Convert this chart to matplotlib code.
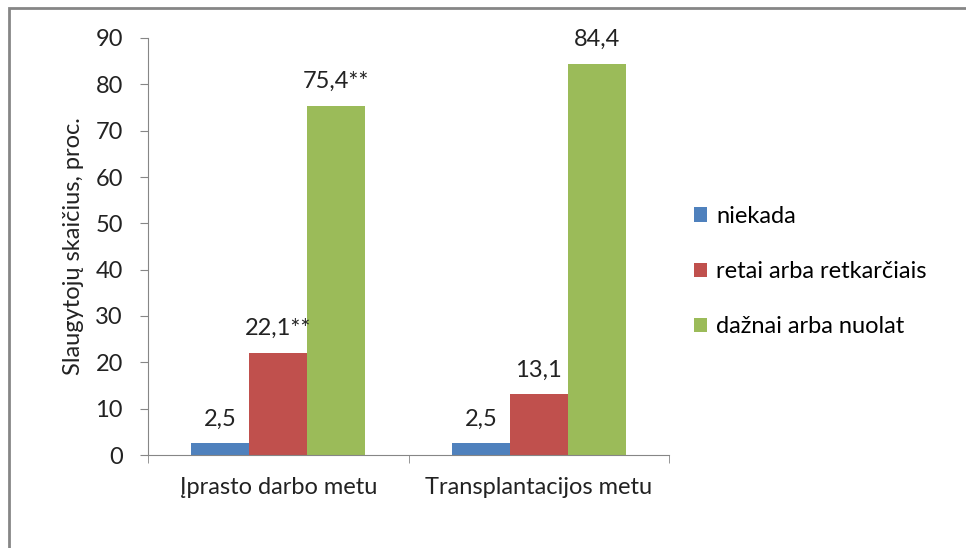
import numpy as np
import matplotlib.pyplot as plt
from matplotlib.patches import Rectangle

plt.rcParams['font.family'] = ['Lato', 'DejaVu Sans']

# Duomenys
categories = ["Įprasto darbo metu", "Transplantacijos metu"]
series_names = ["niekada", "retai arba retkarčiais", "dažnai arba nuolat"]
values = {
    "niekada": [2.5, 2.5],
    "retai arba retkarčiais": [22.1, 13.1],
    "dažnai arba nuolat": [75.4, 84.4],
}
bar_labels = {
    "niekada": ["2,5", "2,5"],
    "retai arba retkarčiais": ["22,1**", "13,1"],
    "dažnai arba nuolat": ["75,4**", "84,4"],
}
colors = ["#4F81BD", "#C0504D", "#9BBB59"]
y_ticks = np.arange(0, 91, 10)

fs = 17
txt_color = "#222222"

fig = plt.figure(figsize=(9.66, 5.48), dpi=100)
ax = fig.add_axes([148 / 966, 1 - 455 / 548, (669 - 148) / 966, (455 - 38) / 548])

# Rėmelis aplink grafiką
fig.patches.append(Rectangle((9 / 966, -0.2), 1.2, 1.2 - 8 / 548,
                             transform=fig.transFigure, fill=False,
                             edgecolor="#868686", linewidth=2))

x = np.arange(len(categories))
width = 1 / 4.5
for i, name in enumerate(series_names):
    pos = x + (i - 1) * width
    bars = ax.bar(pos, values[name], width, color=colors[i], label=name)
    for b, lab in zip(bars, bar_labels[name]):
        ax.annotate(lab, (b.get_x() + b.get_width() / 2, b.get_height()),
                    xytext=(0, 10), textcoords="offset points",
                    ha="center", va="bottom", fontsize=fs, color=txt_color)

ax.set_xlim(-0.5, len(categories) - 0.5)
ax.set_ylim(0, 90)
ax.set_yticks(y_ticks)
ax.set_xticks(x)
ax.set_xticklabels(categories, fontsize=fs)
ax.set_xticks(np.arange(len(categories) + 1) - 0.5, minor=True)
ax.tick_params(axis="x", which="major", length=0, pad=16, colors=txt_color)
ax.tick_params(axis="x", which="minor", length=6, direction="out", color="#868686")
ax.tick_params(axis="y", length=6, direction="out", color="#868686", labelsize=fs,
               pad=12, labelcolor=txt_color)
for s in ["top", "right"]:
    ax.spines[s].set_visible(False)
for s in ["left", "bottom"]:
    ax.spines[s].set_color("#868686")
ax.set_ylabel("Slaugytojų skaičius, proc.", fontsize=fs, color=txt_color, labelpad=8)

fig.legend(loc="center left", bbox_to_anchor=(694 / 966, 1 - 271.5 / 548), frameon=False,
           fontsize=fs, handlelength=0.55, handleheight=0.55, handletextpad=0.38,
           labelspacing=1.45, borderpad=0, borderaxespad=0)

fig.savefig("out.png", dpi=100)
